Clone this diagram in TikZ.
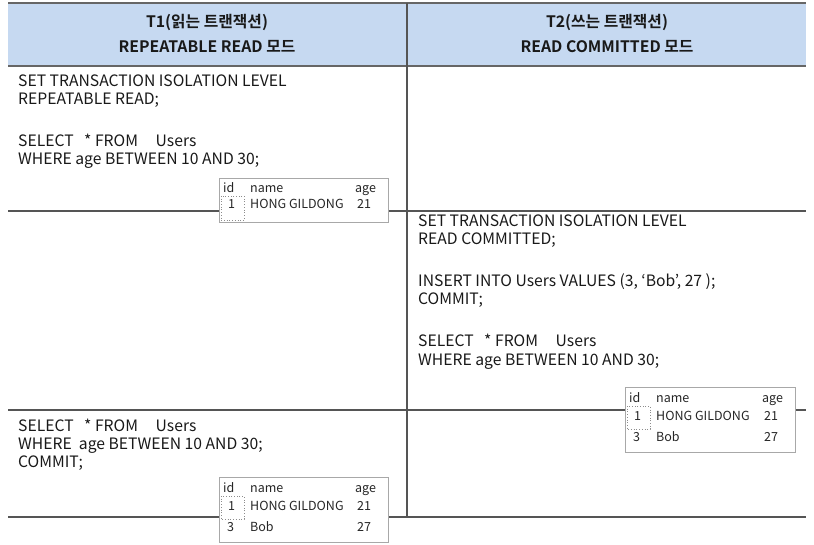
\documentclass[tikz,border=0pt]{standalone}
\usepackage{fontspec}
\setmainfont{Noto Sans CJK KR}[BoldFont={Noto Sans CJK KR Bold}]
\definecolor{hdrblue}{HTML}{C6D9F1}
\definecolor{gridgray}{HTML}{555555}
\definecolor{tblgray}{HTML}{A8A8A8}
\newcommand\sqlsel{SELECT\ \ \ * FROM\ \ \ \ \ Users}
\begin{document}
\begin{tikzpicture}[x=1pt,y=-1pt,
  body/.style={anchor=base west,inner sep=0pt,font=\fontsize{15.7}{18}\selectfont,text=black!90},
  hdr/.style={anchor=base,inner sep=0pt,font=\fontsize{15.8}{18}\selectfont\bfseries,text=black!90},
  tbl/.style={anchor=base west,inner sep=0pt,font=\fontsize{12.5}{14}\selectfont,text=black!85},
  gridline/.style={draw=gridgray,line width=1.8pt},
  hdrline/.style={draw=gridgray!90,line width=2.6pt},
  tblbox/.style={draw=tblgray,fill=white,line width=0.8pt},
  focus/.style={draw=black!45,dotted,line width=0.7pt}]
\useasboundingbox (0,0) rectangle (814,545);
% header
\fill[hdrblue] (8,3) rectangle (806,66);
\draw[hdrline] (8,3) -- (806,3);
\draw[hdrline] (8,66) -- (806,66);
% grid
\draw[gridgray,line width=1.5pt] (407,3) -- (407,517);
\draw[gridline] (8,211) -- (806,211);
\draw[gridline] (8,410) -- (806,410);
\draw[gridline] (8,517) -- (806,517);
% header texts
\node[hdr] (h1a) at (207,28) {T1(읽는 트랜잭션)};
\node[hdr] (h1b) at (207,53) {REPEATABLE READ 모드};
\node[hdr] (h2a) at (607,28) {T2(쓰는 트랜잭션)};
\node[hdr] (h2b) at (607,53) {READ COMMITTED 모드};
% left top
\node[body] (a1) at (18,87) {SET TRANSACTION ISOLATION LEVEL};
\node[body] (a2) at (18,105) {REPEATABLE READ;};
\node[body] (a3) at (18,147) {\sqlsel};
\node[body] (a4) at (18,165) {WHERE age BETWEEN 10 AND 30;};
% right
\node[body] (b1) at (418,227) {SET TRANSACTION ISOLATION LEVEL};
\node[body] (b2) at (418,245) {READ COMMITTED;};
\node[body] (b3) at (418,287) {INSERT INTO Users VALUES (3, ‘Bob’, 27 );};
\node[body] (b4) at (418,305) {COMMIT;};
\node[body] (b5) at (418,347) {\sqlsel};
\node[body] (b6) at (418,365) {WHERE age BETWEEN 10 AND 30;};
% left bottom
\node[body] (c1) at (18,431) {\sqlsel};
\node[body] (c2) at (18,449) {WHERE\ \ age BETWEEN 10 AND 30;};
\node[body] (c3) at (18,467) {COMMIT;};
% table 1
\begin{scope}[shift={(219,178)}]
  \draw[tblbox] (0,0) rectangle (169,44);
  \draw[focus] (2,18) rectangle (25,42);
  \node[tbl] (t1h1) at (4,15) {id};
  \node[tbl] (t1h2) at (31,15) {name};
  \node[tbl] (t1h3) at (136,15) {age};
  \node[tbl] (t1r1) at (9,31) {1};
  \node[tbl] (t1r2) at (31,31) {HONG GILDONG};
  \node[tbl] (t1r3) at (138,31) {21};
\end{scope}
% table 2
\begin{scope}[shift={(625,387)}]
  \draw[tblbox] (0,0) rectangle (170,65);
  \draw[focus] (2,19) rectangle (25,42);
  \node[tbl] (t2h1) at (4,15) {id};
  \node[tbl] (t2h2) at (31,15) {name};
  \node[tbl] (t2h3) at (137,15) {age};
  \node[tbl] (t2r1) at (9,33) {1};
  \node[tbl] (t2r2) at (31,33) {HONG GILDONG};
  \node[tbl] (t2r3) at (139,33) {21};
  \node[tbl] (t2s1) at (8,54) {3};
  \node[tbl] (t2s2) at (31,54) {Bob};
  \node[tbl] (t2s3) at (139,54) {27};
\end{scope}
% table 3
\begin{scope}[shift={(219,477)}]
  \draw[tblbox] (0,0) rectangle (169,65);
  \draw[focus] (2,19) rectangle (25,42);
  \node[tbl] (t3h1) at (4,15) {id};
  \node[tbl] (t3h2) at (31,15) {name};
  \node[tbl] (t3h3) at (136,15) {age};
  \node[tbl] (t3r1) at (9,33) {1};
  \node[tbl] (t3r2) at (31,33) {HONG GILDONG};
  \node[tbl] (t3r3) at (138,33) {21};
  \node[tbl] (t3s1) at (8,54) {3};
  \node[tbl] (t3s2) at (31,54) {Bob};
  \node[tbl] (t3s3) at (138,54) {27};
\end{scope}
\end{tikzpicture}
\end{document}
